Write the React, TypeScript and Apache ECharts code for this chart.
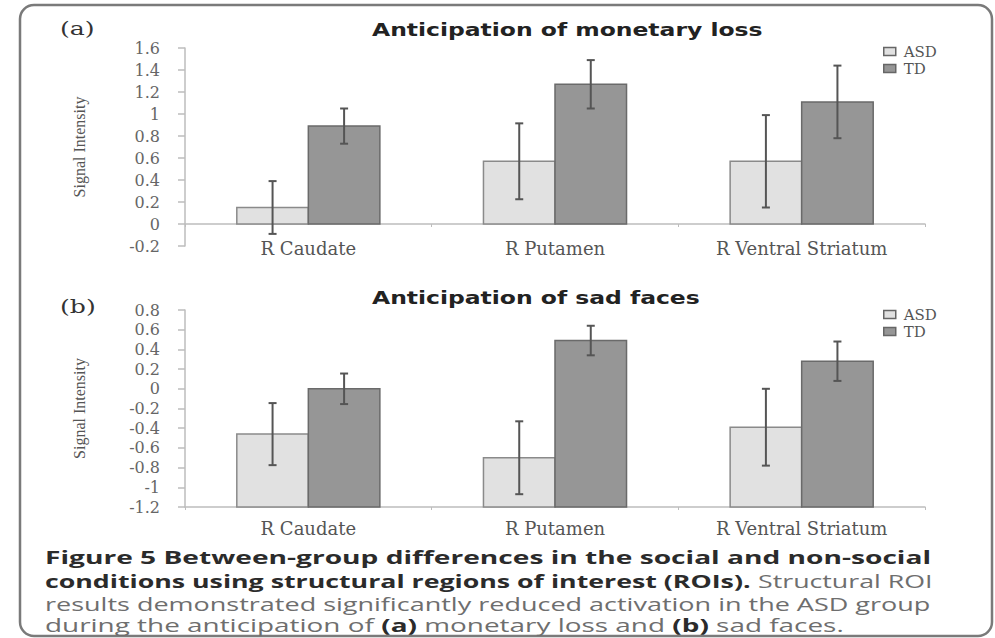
import React, { useEffect, useRef } from "react";
import * as echarts from "echarts";

const categories = ["R Caudate", "R Putamen", "R Ventral Striatum"];
const groupNames = ["ASD", "TD"];

// Panel (a): Anticipation of monetary loss
const lossASD = [0.15, 0.57, 0.57];
const lossASDErr = [0.24, 0.345, 0.42];
const lossTD = [0.89, 1.27, 1.11];
const lossTDErr = [0.16, 0.22, 0.33];
const lossTicks = [-0.2, 0, 0.2, 0.4, 0.6, 0.8, 1, 1.2, 1.4, 1.6];

// Panel (b): Anticipation of sad faces
const sadASD = [-0.46, -0.7, -0.39];
const sadASDErr = [0.315, 0.37, 0.39];
const sadTD = [0.0, 0.49, 0.28];
const sadTDErr = [0.155, 0.15, 0.2];
const sadTicks = [-1.2, -1, -0.8, -0.6, -0.4, -0.2, 0, 0.2, 0.4, 0.6, 0.8];

const titles = ["Anticipation of monetary loss", "Anticipation of sad faces"];
const panelLabels = ["(a)", "(b)"];

const ASD_FILL = "#e1e1e1";
const ASD_STROKE = "#8a8a8a";
const TD_FILL = "#969696";
const TD_STROKE = "#6a6a6a";
const ERR = "#555555";

function makeRender(groupIdx: number, base: number, fill: string, stroke: string) {
  return (params: any, api: any) => {
    const cat = api.value(0);
    const val = api.value(1);
    const err = api.value(2);
    const bandW = api.size([1, 0])[0];
    const barW = bandW * 0.29;
    const p = api.coord([cat, val]);
    const b = api.coord([cat, base]);
    const x0 = p[0] + (groupIdx === 0 ? -barW : 0);
    const top = Math.min(p[1], b[1]);
    const h = Math.abs(b[1] - p[1]);
    const cx = x0 + barW / 2;
    const hi = api.coord([cat, val + err])[1];
    const lo = api.coord([cat, val - err])[1];
    const es = { stroke: ERR, lineWidth: 2 };
    return {
      type: "group",
      children: [
        { type: "rect", shape: { x: x0, y: top, width: barW, height: h }, style: { fill, stroke, lineWidth: 1.5 } },
        { type: "line", shape: { x1: cx, y1: hi, x2: cx, y2: lo }, style: es },
        { type: "line", shape: { x1: cx - 4, y1: hi, x2: cx + 4, y2: hi }, style: es },
        { type: "line", shape: { x1: cx - 4, y1: lo, x2: cx + 4, y2: lo }, style: es },
      ],
    };
  };
}

const fmt = (v: number) => String(Math.round(v * 10) / 10);

export default function App() {
  const ref = useRef<HTMLDivElement>(null);
  useEffect(() => {
    document.body.style.margin = "0";
    document.body.style.background = "#fff";
    const chart = echarts.init(ref.current!, null, { renderer: "svg" });

    const serif = "DejaVu Serif";
    const yAxisBase = (ticks: number[], gridIndex: number) => ({
      type: "value",
      gridIndex,
      min: ticks[0],
      max: ticks[ticks.length - 1],
      interval: 0.2,
      name: "Signal Intensity",
      nameLocation: "middle",
      nameGap: 98,
      nameTextStyle: { fontFamily: "Liberation Serif", fontSize: 16, color: "#555" },
      axisLine: { show: true, lineStyle: { color: "#bdbdbd", width: 1.5 } },
      axisTick: { show: true, length: 7, lineStyle: { color: "#bdbdbd", width: 1.5 } },
      splitLine: { show: false },
      axisLabel: { formatter: fmt, fontFamily: serif, fontSize: 16, color: "#666", margin: 25 },
    });
    const xAxisBase = (gridIndex: number, onZero: boolean, margin: number) => ({
      type: "category",
      gridIndex,
      data: categories,
      axisLine: { show: true, onZero, lineStyle: { color: "#bdbdbd", width: 1.5 } },
      axisTick: { show: true, length: 3, lineStyle: { color: "#bdbdbd" } },
      axisLabel: { fontFamily: serif, fontSize: 18, color: "#555", margin },
    });

    const mk = (vals: number[], errs: number[]) => vals.map((v, i) => [i, v, errs[i]]);

    const series: any[] = [
      { name: "ASD", type: "custom", xAxisIndex: 0, yAxisIndex: 0, data: mk(lossASD, lossASDErr), renderItem: makeRender(0, 0, ASD_FILL, ASD_STROKE), itemStyle: { color: ASD_FILL, borderColor: ASD_STROKE }, encode: { x: 0, y: 1 } },
      { name: "TD", type: "custom", xAxisIndex: 0, yAxisIndex: 0, data: mk(lossTD, lossTDErr), renderItem: makeRender(1, 0, TD_FILL, TD_STROKE), itemStyle: { color: TD_FILL, borderColor: TD_STROKE }, encode: { x: 0, y: 1 } },
      { name: "ASD", type: "custom", xAxisIndex: 1, yAxisIndex: 1, data: mk(sadASD, sadASDErr), renderItem: makeRender(0, sadTicks[0], ASD_FILL, ASD_STROKE), itemStyle: { color: ASD_FILL, borderColor: ASD_STROKE }, encode: { x: 0, y: 1 } },
      { name: "TD", type: "custom", xAxisIndex: 1, yAxisIndex: 1, data: mk(sadTD, sadTDErr), renderItem: makeRender(1, sadTicks[0], TD_FILL, TD_STROKE), itemStyle: { color: TD_FILL, borderColor: TD_STROKE }, encode: { x: 0, y: 1 } },
    ];

    const legendBase = (top: number) => ({
      left: 878,
      top,
      orient: "vertical",
      itemGap: 2,
      itemWidth: 12,
      itemHeight: 8,
      icon: "rect",
      data: [
        { name: groupNames[0], itemStyle: { color: ASD_FILL, borderColor: "#666", borderWidth: 1.5 } },
        { name: groupNames[1], itemStyle: { color: TD_FILL, borderColor: "#666", borderWidth: 1.5 } },
      ],
      textStyle: { fontFamily: serif, fontSize: 15, lineHeight: 15, color: "#555", padding: [0, 0, 0, 3] },
      selectedMode: false,
    });

    const captionBold = "#2b2b2b";
    const captionReg = "#6e6e6e";
    const capFont = "Open Sans";
    const rich = {
      b: { fontFamily: capFont, fontWeight: "bold", fontSize: 18, lineHeight: 16, fill: captionBold, color: captionBold },
      r: { fontFamily: capFont, fontWeight: "normal", fontSize: 18, lineHeight: 16, fill: captionReg, color: captionReg },
    };
    const capLine = (y: number, sx: number, text: string) => ({
      type: "text",
      x: 45,
      y,
      scaleX: sx,
      style: { text, rich, verticalAlign: "middle", align: "left" },
    });
    const titleText = (y: number, text: string) => ({
      type: "text",
      x: 372,
      y,
      scaleX: 1.38,
      style: { text, fontFamily: "DejaVu Sans", fontWeight: "bold", fontSize: 17, fill: "#222", verticalAlign: "middle", align: "left" },
    });

    chart.setOption({
      animation: false,
      backgroundColor: "#fff",
      legend: [legendBase(39), legendBase(302)],
      grid: [
        { left: 185, top: 48, width: 740, height: 198 },
        { left: 185, top: 310, width: 740, height: 197 },
      ],
      xAxis: [xAxisBase(0, true, -7), xAxisBase(1, false, 12)],
      yAxis: [yAxisBase(lossTicks, 0), yAxisBase(sadTicks, 1)],
      series,
      graphic: [
        { type: "rect", shape: { x: 20, y: 5, width: 972, height: 631, r: 14 }, style: { fill: "none", stroke: "#7a7a7a", lineWidth: 2.5 }, silent: true },
        titleText(30, titles[0]),
        titleText(298, titles[1]),
        { type: "text", x: 60, y: 29, scaleX: 1.4, style: { text: panelLabels[0], fontFamily: serif, fontSize: 18, fill: "#333", verticalAlign: "middle" } },
        { type: "text", x: 60, y: 307, scaleX: 1.4, style: { text: panelLabels[1], fontFamily: serif, fontSize: 18, fill: "#333", verticalAlign: "middle" } },
        capLine(557, 1.563, "{b|Figure 5 Between-group differences in the social and non-social}"),
        capLine(581, 1.486, "{b|conditions using structural regions of interest (ROIs).}{r| Structural ROI}"),
        capLine(604, 1.5, "{r|results demonstrated significantly reduced activation in the ASD group}"),
        capLine(625, 1.55, "{r|during the anticipation of }{b|(a)}{r| monetary loss and }{b|(b)}{r| sad faces.}"),
      ],
    });
    return () => chart.dispose();
  }, []);
  return <div ref={ref} style={{ width: 995, height: 638 }} />;
}
